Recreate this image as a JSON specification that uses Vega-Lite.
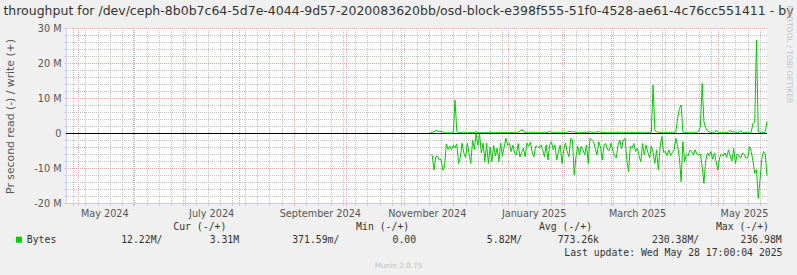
{
"$schema": "https://vega.github.io/schema/vega-lite/v6.json",
"width": 701, "height": 175,
"autosize": {"type": "none"},
"padding": {"left": 66, "top": 28, "right": 30, "bottom": 72},
"background": "#f0f0f0",
"config": {"view": {"fill": "#ffffff", "stroke": null}, "font": "DejaVu Sans"},
"data": {"values": [
{"date":"2024-04-24","read":null,"write":null},
{"date":"2024-11-18","read":-6.0,"write":0.2},
{"date":"2024-11-19","read":-6.5,"write":0.2},
{"date":"2024-11-20","read":-10.6,"write":0.3},
{"date":"2024-11-21","read":-6.8,"write":0.85},
{"date":"2024-11-22","read":-6.6,"write":0.5},
{"date":"2024-11-23","read":-7.7,"write":0.45},
{"date":"2024-11-24","read":-7.5,"write":0.45},
{"date":"2024-11-25","read":-10.6,"write":0.4},
{"date":"2024-11-26","read":-9.7,"write":0.1},
{"date":"2024-11-27","read":-3.1,"write":0.05},
{"date":"2024-11-28","read":-4.7,"write":0.05},
{"date":"2024-11-29","read":-3.7,"write":0.05},
{"date":"2024-11-30","read":-4.7,"write":0.05},
{"date":"2024-12-01","read":-3.5,"write":0.1},
{"date":"2024-12-02","read":-4.3,"write":9.4},
{"date":"2024-12-03","read":-3.1,"write":0.4},
{"date":"2024-12-04","read":-8.7,"write":0.1},
{"date":"2024-12-05","read":-7.0,"write":0.1},
{"date":"2024-12-06","read":-2.9,"write":0.1},
{"date":"2024-12-07","read":-5.7,"write":0.3},
{"date":"2024-12-08","read":-7.0,"write":0.1},
{"date":"2024-12-09","read":-2.9,"write":0.1},
{"date":"2024-12-10","read":-5.9,"write":0.1},
{"date":"2024-12-11","read":-8.7,"write":0.1},
{"date":"2024-12-12","read":-2.0,"write":0.1},
{"date":"2024-12-13","read":-4.7,"write":0.1},
{"date":"2024-12-14","read":-0.2,"write":0.4},
{"date":"2024-12-15","read":-3.5,"write":0.1},
{"date":"2024-12-16","read":-0.4,"write":0.1},
{"date":"2024-12-17","read":-5.7,"write":0.1},
{"date":"2024-12-18","read":-2.9,"write":0.1},
{"date":"2024-12-19","read":-8.2,"write":0.1},
{"date":"2024-12-20","read":-2.9,"write":0.1},
{"date":"2024-12-21","read":-8.7,"write":0.1},
{"date":"2024-12-22","read":-4.0,"write":0.4},
{"date":"2024-12-23","read":-8.2,"write":0.1},
{"date":"2024-12-24","read":-3.5,"write":0.1},
{"date":"2024-12-25","read":-6.6,"write":0.1},
{"date":"2024-12-26","read":-4.3,"write":0.1},
{"date":"2024-12-27","read":-8.2,"write":0.1},
{"date":"2024-12-28","read":-2.9,"write":0.1},
{"date":"2024-12-29","read":-6.6,"write":0.1},
{"date":"2024-12-30","read":-4.0,"write":0.1},
{"date":"2024-12-31","read":-1.5,"write":0.1},
{"date":"2025-01-01","read":-3.5,"write":0.1},
{"date":"2025-01-02","read":-2.9,"write":0.15},
{"date":"2025-01-03","read":-5.3,"write":0.15},
{"date":"2025-01-04","read":-3.5,"write":0.15},
{"date":"2025-01-05","read":-5.8,"write":0.2},
{"date":"2025-01-06","read":-6.3,"write":0.2},
{"date":"2025-01-07","read":-3.0,"write":0.2},
{"date":"2025-01-08","read":-6.8,"write":0.5},
{"date":"2025-01-09","read":-5.5,"write":1.05},
{"date":"2025-01-10","read":-4.3,"write":0.3},
{"date":"2025-01-11","read":-6.8,"write":0.2},
{"date":"2025-01-12","read":-2.9,"write":0.2},
{"date":"2025-01-13","read":-3.8,"write":0.2},
{"date":"2025-01-14","read":-2.6,"write":0.2},
{"date":"2025-01-15","read":-5.5,"write":0.2},
{"date":"2025-01-16","read":-6.8,"write":0.2},
{"date":"2025-01-17","read":-3.8,"write":0.2},
{"date":"2025-01-18","read":-3.8,"write":0.2},
{"date":"2025-01-19","read":-4.3,"write":0.2},
{"date":"2025-01-20","read":-3.4,"write":0.2},
{"date":"2025-01-21","read":-4.8,"write":0.2},
{"date":"2025-01-22","read":-6.8,"write":0.2},
{"date":"2025-01-23","read":-3.4,"write":0.2},
{"date":"2025-01-24","read":-7.7,"write":0.2},
{"date":"2025-01-25","read":-3.4,"write":0.5},
{"date":"2025-01-26","read":-2.5,"write":0.2},
{"date":"2025-01-27","read":-4.8,"write":0.2},
{"date":"2025-01-28","read":-3.4,"write":0.2},
{"date":"2025-01-29","read":-7.7,"write":0.2},
{"date":"2025-01-30","read":-5.3,"write":0.2},
{"date":"2025-01-31","read":-3.4,"write":0.2},
{"date":"2025-02-01","read":-8.7,"write":0.2},
{"date":"2025-02-02","read":-4.8,"write":0.2},
{"date":"2025-02-03","read":-2.9,"write":0.2},
{"date":"2025-02-04","read":-5.3,"write":0.2},
{"date":"2025-02-05","read":-6.8,"write":0.5},
{"date":"2025-02-06","read":-1.5,"write":0.4},
{"date":"2025-02-07","read":-2.0,"write":0.2},
{"date":"2025-02-08","read":-12.0,"write":0.4},
{"date":"2025-02-09","read":-6.8,"write":0.2},
{"date":"2025-02-10","read":-3.8,"write":0.2},
{"date":"2025-02-11","read":-6.3,"write":0.2},
{"date":"2025-02-12","read":-3.8,"write":0.2},
{"date":"2025-02-13","read":-4.8,"write":0.2},
{"date":"2025-02-14","read":-6.3,"write":0.2},
{"date":"2025-02-15","read":-3.4,"write":0.2},
{"date":"2025-02-16","read":-8.7,"write":0.2},
{"date":"2025-02-17","read":-1.5,"write":0.4},
{"date":"2025-02-18","read":-2.0,"write":0.2},
{"date":"2025-02-19","read":-2.5,"write":0.2},
{"date":"2025-02-20","read":-4.3,"write":0.2},
{"date":"2025-02-21","read":-6.3,"write":0.3},
{"date":"2025-02-22","read":-2.5,"write":0.4},
{"date":"2025-02-23","read":-4.0,"write":0.2},
{"date":"2025-02-24","read":-7.7,"write":0.2},
{"date":"2025-02-25","read":-3.4,"write":0.2},
{"date":"2025-02-26","read":-3.0,"write":0.2},
{"date":"2025-02-27","read":-4.8,"write":0.2},
{"date":"2025-02-28","read":-5.0,"write":0.2},
{"date":"2025-03-01","read":-2.9,"write":0.2},
{"date":"2025-03-02","read":-5.0,"write":0.2},
{"date":"2025-03-03","read":-6.5,"write":0.2},
{"date":"2025-03-04","read":-7.1,"write":0.2},
{"date":"2025-03-05","read":-3.4,"write":0.2},
{"date":"2025-03-06","read":-2.0,"write":0.2},
{"date":"2025-03-07","read":-4.5,"write":0.2},
{"date":"2025-03-08","read":-2.0,"write":0.2},
{"date":"2025-03-09","read":-1.5,"write":0.2},
{"date":"2025-03-10","read":-7.7,"write":0.2},
{"date":"2025-03-11","read":-11.0,"write":0.2},
{"date":"2025-03-12","read":-3.8,"write":0.2},
{"date":"2025-03-13","read":-4.3,"write":0.2},
{"date":"2025-03-14","read":-3.0,"write":0.2},
{"date":"2025-03-15","read":-5.3,"write":0.2},
{"date":"2025-03-16","read":-4.3,"write":0.2},
{"date":"2025-03-17","read":-6.5,"write":0.2},
{"date":"2025-03-18","read":-8.2,"write":0.2},
{"date":"2025-03-19","read":-3.0,"write":0.2},
{"date":"2025-03-20","read":-6.3,"write":0.2},
{"date":"2025-03-21","read":-3.4,"write":0.2},
{"date":"2025-03-22","read":-5.5,"write":0.2},
{"date":"2025-03-23","read":-7.1,"write":0.2},
{"date":"2025-03-24","read":-3.8,"write":0.2},
{"date":"2025-03-25","read":-5.5,"write":13.7},
{"date":"2025-03-26","read":-8.7,"write":0.9},
{"date":"2025-03-27","read":-4.8,"write":0.3},
{"date":"2025-03-28","read":-10.6,"write":0.2},
{"date":"2025-03-29","read":-4.0,"write":0.2},
{"date":"2025-03-30","read":-1.0,"write":0.2},
{"date":"2025-03-31","read":-5.5,"write":0.2},
{"date":"2025-04-01","read":-5.3,"write":0.2},
{"date":"2025-04-02","read":-6.5,"write":0.2},
{"date":"2025-04-03","read":-4.8,"write":0.2},
{"date":"2025-04-04","read":-6.5,"write":0.2},
{"date":"2025-04-05","read":-5.5,"write":0.2},
{"date":"2025-04-06","read":-4.8,"write":0.2},
{"date":"2025-04-07","read":-1.5,"write":0.3},
{"date":"2025-04-08","read":-3.8,"write":4.2},
{"date":"2025-04-09","read":-7.0,"write":7.0},
{"date":"2025-04-10","read":-13.9,"write":8.0},
{"date":"2025-04-11","read":-2.5,"write":0.3},
{"date":"2025-04-12","read":-8.2,"write":0.2},
{"date":"2025-04-13","read":-6.0,"write":0.2},
{"date":"2025-04-14","read":-6.5,"write":0.2},
{"date":"2025-04-15","read":-4.9,"write":0.2},
{"date":"2025-04-16","read":-5.3,"write":0.2},
{"date":"2025-04-17","read":-6.3,"write":0.2},
{"date":"2025-04-18","read":-4.8,"write":0.2},
{"date":"2025-04-19","read":-6.0,"write":0.2},
{"date":"2025-04-20","read":-6.3,"write":0.5},
{"date":"2025-04-21","read":-6.0,"write":1.8},
{"date":"2025-04-22","read":-9.6,"write":14.2},
{"date":"2025-04-23","read":-14.4,"write":3.2},
{"date":"2025-04-24","read":-8.0,"write":1.5},
{"date":"2025-04-25","read":-5.7,"write":0.6},
{"date":"2025-04-26","read":-6.5,"write":0.3},
{"date":"2025-04-27","read":-5.3,"write":0.2},
{"date":"2025-04-28","read":-7.5,"write":0.2},
{"date":"2025-04-29","read":-5.7,"write":0.2},
{"date":"2025-04-30","read":-8.2,"write":0.8},
{"date":"2025-05-01","read":-10.6,"write":0.2},
{"date":"2025-05-02","read":-7.0,"write":0.2},
{"date":"2025-05-03","read":-6.0,"write":0.2},
{"date":"2025-05-04","read":-6.5,"write":0.2},
{"date":"2025-05-05","read":-5.7,"write":0.2},
{"date":"2025-05-06","read":-7.0,"write":0.2},
{"date":"2025-05-07","read":-4.8,"write":0.2},
{"date":"2025-05-08","read":-6.5,"write":0.8},
{"date":"2025-05-09","read":-8.0,"write":0.2},
{"date":"2025-05-10","read":-4.4,"write":0.4},
{"date":"2025-05-11","read":-8.7,"write":0.2},
{"date":"2025-05-12","read":-6.0,"write":0.2},
{"date":"2025-05-13","read":-6.5,"write":0.2},
{"date":"2025-05-14","read":-7.2,"write":0.7},
{"date":"2025-05-15","read":-5.7,"write":0.2},
{"date":"2025-05-16","read":-6.2,"write":0.2},
{"date":"2025-05-17","read":-7.2,"write":0.2},
{"date":"2025-05-18","read":-7.0,"write":0.2},
{"date":"2025-05-19","read":-3.9,"write":0.2},
{"date":"2025-05-20","read":-5.3,"write":0.2},
{"date":"2025-05-21","read":-8.0,"write":2.8},
{"date":"2025-05-22","read":-11.5,"write":3.0},
{"date":"2025-05-23","read":-10.5,"write":26.6},
{"date":"2025-05-24","read":-18.7,"write":0.3},
{"date":"2025-05-25","read":-13.5,"write":0.2},
{"date":"2025-05-26","read":-7.5,"write":0.2},
{"date":"2025-05-27","read":-5.3,"write":0.2},
{"date":"2025-05-28","read":-6.0,"write":0.2},
{"date":"2025-05-29","read":-12.22,"write":3.31}
]},
"layer": [
{
"mark": {"type": "line", "color": "#000000", "strokeWidth": 1, "yOffset": 0.5},
"encoding": {
"x": {"field": "date", "type": "temporal",
 "scale": {"type": "utc", "domain": [{"year": 2024, "month": 4, "date": 24, "utc": true}, {"year": 2025, "month": 5, "date": 29, "utc": true}]},
 "axis": {"orient": "bottom", "values": {"expr": "utcSequence('week', utc(2024, 3, 28), utc(2025, 4, 29))"}, "grid": true, "gridColor": "#c2c2c2", "gridDash": [1, 1], "gridDashOffset": 0.5, "gridWidth": 1,
  "labels": false, "ticks": true, "tickSize": 2, "tickColor": "#c2c2c2", "domain": false,
  "title": "Disk throughput for /dev/ceph-8b0b7c64-5d7e-4044-9d57-2020083620bb/osd-block-e398f555-51f0-4528-ae61-4c76cc551411 - by year",
  "titleX": 332.5, "titleY": -193, "titleAngle": 0, "titleAlign": "center", "titleBaseline": "middle",
  "titleFont": "DejaVu Sans", "titleFontSize": 12.5, "titleFontWeight": "normal", "titleColor": "#333333", "titleLimit": 3000}},
"y": {"datum": 0, "type": "quantitative",
 "scale": {"domain": [-20, 30], "nice": false, "zero": false},
 "axis": {"orient": "left", "values": [-20,-18,-16,-14,-12,-10,-8,-6,-4,-2,0,2,4,6,8,10,12,14,16,18,20,22,24,26,28,30],
  "grid": true, "gridColor": {"condition": {"test": "datum.value % 10 == 0", "value": "#f0a8a8"}, "value": "#c2c2c2"}, "gridDash": [1, 1], "gridDashOffset": 0.5,
  "domain": true, "domainColor": "#ccccff", "ticks": true, "tickSize": 2, "tickColor": "#c2c2c2",
  "labelExpr": "datum.value == 0 ? '0' : (datum.value % 10 == 0 ? datum.value + ' M' : '')",
  "labelFont": "DejaVu Sans", "labelFontSize": 9.7, "labelColor": "#555555", "labelPadding": 3, "labelOverlap": false,
  "title": "Pr second read (-) / write (+)", "titleX": -56, "titleY": 88, "titleAngle": 270, "titleAlign": "center", "titleBaseline": "middle",
  "titleFont": "DejaVu Sans", "titleFontSize": 10.8, "titleFontWeight": "normal", "titleColor": "#555555"}}
}
},
{
"mark": {"type": "line", "strokeWidth": 1},
"encoding": {
"x": {"field": "date", "type": "temporal",
 "scale": {"type": "utc", "domain": [{"year": 2024, "month": 4, "date": 24, "utc": true}, {"year": 2025, "month": 5, "date": 29, "utc": true}]},
 "axis": {"orient": "bottom", "tickCount": {"interval": "month", "step": 1}, "grid": true, "gridColor": "#f0a8a8", "gridDash": [1, 1], "gridDashOffset": 0.5,
  "domain": true, "domainColor": "#ccccff", "ticks": true, "tickSize": 2, "tickColor": "#f0a8a8",
  "labelExpr": "utcmonth(datum.value) % 2 == 0 ? utcFormat(datum.value, '%B %Y') : ''",
  "labelOffset": 26, "labelFlush": false, "labelOverlap": false, "labelBound": false, "labelAngle": 0, "labelPadding": 3,
  "labelFont": "DejaVu Sans", "labelFontSize": 9.7, "labelColor": "#555555",
  "title": "Last update: Wed May 28 17:00:04 2025", "titleX": 716, "titleY": 49, "titleAngle": 0, "titleAlign": "right", "titleBaseline": "middle",
  "titleFont": "DejaVu Sans Mono", "titleFontSize": 9.8, "titleFontWeight": "normal", "titleColor": "#333333", "titleLimit": 1000}},
"y": {"field": "write", "type": "quantitative",
 "scale": {"domain": [-20, 30], "nice": false, "zero": false},
 "axis": {"orient": "right", "grid": false, "labels": false, "ticks": false, "domain": false,
  "title": "RRDTOOL / TOBI OETIKER", "titleX": 25, "titleY": -23, "titleAngle": 90, "titleAlign": "left", "titleBaseline": "top",
  "titleFont": "DejaVu Sans", "titleFontSize": 7.6, "titleFontWeight": "normal", "titleColor": "#c4c4c4", "titleLimit": 500}},
"color": {"datum": "Bytes", "scale": {"range": ["#00cc00"]},
 "legend": {"orient": "none", "legendX": -52, "legendY": 194, "padding": 0, "offset": 0,
  "title": "\u200b\u00a0\u00a0\u00a0\u00a0\u00a0\u00a0\u00a0\u00a0\u00a0\u00a0\u00a0\u00a0\u00a0\u00a0\u00a0\u00a0\u00a0\u00a0\u00a0\u00a0\u00a0\u00a0\u00a0\u00a0\u00a0\u00a0\u00a0Cur (-/+)\u00a0\u00a0\u00a0\u00a0\u00a0\u00a0\u00a0\u00a0\u00a0\u00a0\u00a0\u00a0\u00a0\u00a0\u00a0\u00a0\u00a0\u00a0\u00a0\u00a0\u00a0\u00a0Min (-/+)\u00a0\u00a0\u00a0\u00a0\u00a0\u00a0\u00a0\u00a0\u00a0\u00a0\u00a0\u00a0\u00a0\u00a0\u00a0\u00a0\u00a0\u00a0\u00a0\u00a0\u00a0\u00a0Avg (-/+)\u00a0\u00a0\u00a0\u00a0\u00a0\u00a0\u00a0\u00a0\u00a0\u00a0\u00a0\u00a0\u00a0\u00a0\u00a0\u00a0\u00a0\u00a0\u00a0\u00a0\u00a0Max (-/+)",
  "titleFont": "DejaVu Sans Mono", "titleFontSize": 9.8, "titleFontWeight": "normal", "titleColor": "#333333", "titleLimit": 2000, "titlePadding": 3, "titleAnchor": "start",
  "labelFont": "DejaVu Sans Mono", "labelFontSize": 9.8, "labelColor": "#333333", "labelLimit": 2000, "labelOffset": 3,
  "labelExpr": "datum.label + '\u00a0\u00a0\u00a0\u00a0\u00a0\u00a0\u00a0\u00a0\u00a0\u00a0\u00a012.22M/\u00a0\u00a0\u00a0\u00a0\u00a0\u00a0\u00a0\u00a03.31M\u00a0\u00a0\u00a0\u00a0\u00a0\u00a0\u00a0\u00a0\u00a0371.59m/\u00a0\u00a0\u00a0\u00a0\u00a0\u00a0\u00a0\u00a0\u00a00.00\u00a0\u00a0\u00a0\u00a0\u00a0\u00a0\u00a0\u00a0\u00a0\u00a0\u00a0\u00a05.82M/\u00a0\u00a0\u00a0\u00a0\u00a0\u00a0773.26k\u00a0\u00a0\u00a0\u00a0\u00a0\u00a0\u00a0\u00a0\u00a0230.38M/\u00a0\u00a0\u00a0\u00a0\u00a0\u00a0\u00a0236.98M'",
  "symbolType": "square", "symbolSize": 36, "symbolStrokeWidth": 0, "symbolFillColor": "#00cc00",
  "encode": {"symbols": {"update": {"fill": {"value": "#00cc00"}, "stroke": {"value": "transparent"}, "strokeWidth": {"value": 0}}}}}}
}
},
{
"mark": {"type": "line", "strokeWidth": 1},
"encoding": {
"x": {"field": "date", "type": "temporal",
 "scale": {"type": "utc", "domain": [{"year": 2024, "month": 4, "date": 24, "utc": true}, {"year": 2025, "month": 5, "date": 29, "utc": true}]},
 "axis": {"orient": "bottom", "grid": false, "labels": false, "ticks": false, "domain": false,
  "title": "Munin 2.0.75", "titleX": 332, "titleY": 62, "titleAngle": 0, "titleAlign": "center", "titleBaseline": "middle",
  "titleFont": "DejaVu Sans", "titleFontSize": 7.3, "titleFontWeight": "normal", "titleColor": "#c0c0c0"}},
"y": {"field": "read", "type": "quantitative",
 "scale": {"domain": [-20, 30], "nice": false, "zero": false},
 "axis": null},
"color": {"datum": "Bytes"}
}
}
],
"resolve": {"axis": {"x": "independent", "y": "independent"}}
}
